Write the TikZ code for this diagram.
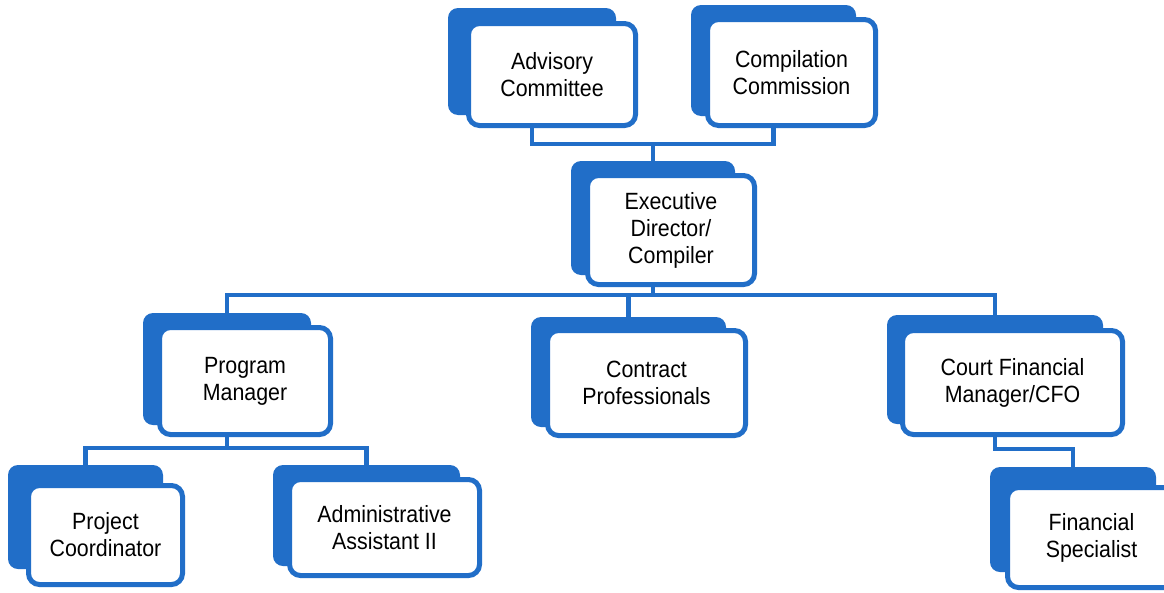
\documentclass[tikz,border=0pt]{standalone}
\usepackage{fontspec}
\setmainfont{Liberation Sans}[FakeStretch=0.91]
\usetikzlibrary{backgrounds,calc}
\definecolor{orgblue}{RGB}{33,110,200}
\tikzset{
  backbox/.style={fill=orgblue, draw=none, rounded corners=10pt, inner sep=0pt},
  frontbox/.style={fill=white, draw=orgblue, line width=5pt, rounded corners=11pt, inner sep=0pt,
    align=center, font=\fontsize{23.5}{27}\selectfont},
  conn/.style={draw=orgblue, line width=4.5pt},
}
% #1 name, #2 x1, #3 y1, #4 x2, #5 y2 (outer edges of front box), #6 text, #7 dx, #8 dy
\newcommand\obox[8]{%
  \pgfmathsetmacro\bw{#4-#2-22+#7}%
  \pgfmathsetmacro\bh{#5-#3}%
  \pgfmathsetmacro\bcx{(#2-#7+#4-22)/2}%
  \pgfmathsetmacro\bcy{(#3+#5)/2-#8}%
  \pgfmathsetmacro\fw{#4-#2-5}%
  \pgfmathsetmacro\fh{#5-#3-5}%
  \pgfmathsetmacro\fcx{(#2+#4)/2}%
  \pgfmathsetmacro\fcy{(#3+#5)/2}%
  \node[backbox, minimum width=\bw pt, minimum height=\bh pt] (#1b) at (\bcx,\bcy) {};
  \node[frontbox, minimum width=\fw pt, minimum height=\fh pt] (#1) at (\fcx,\fcy) {#6};
}
\begin{document}
\begin{tikzpicture}[x=1pt,y=-1pt]
\clip (0,0) rectangle (1164,592);
\obox{adv}{466}{21}{638}{128}{Advisory\\Committee}{18}{13}
\obox{comp}{705}{17}{878}{128}{Compilation\\Commission}{14}{12}
\obox{exec}{585}{173}{757}{287}{Executive\\Director/\\Compiler}{14}{12}
\obox{pm}{157}{325}{333}{437}{Program\\Manager}{14}{12}
\obox{con}{545}{328}{748}{438}{Contract\\Professionals}{14}{11}
\obox{cfo}{900}{328}{1125}{437}{Court Financial\\Manager/CFO}{13}{13}
\obox{proj}{26}{483}{185}{587}{Project\\Coordinator}{18}{18}
\obox{adm}{287}{477}{482}{578}{Administrative\\Assistant II}{14}{12}
\obox{fin}{1005}{485}{1178}{590}{Financial\\Specialist}{15}{18}
\begin{scope}[on background layer]
  \fill[white] (0,0) rectangle (1164,592);
  \draw[conn] (execb.north) -- ++(0,-17) coordinate (j1);
  \draw[conn] (advb.south) |- (j1) -| (compb.south);
  \draw[conn] (execb.south) -- ++(0,20) coordinate (j2);
  \draw[conn] (pmb.north) |- (j2) -| (cfob.north);
  \draw[conn] (conb.north) -- (conb.north |- j2);
  \draw[conn] (pmb.south) -- ++(0,23) coordinate (j3);
  \draw[conn] (projb.north) |- (j3) -| (admb.north);
  \draw[conn] (cfob.south) -- ++(0,25) -| (finb.north);
\end{scope}
\end{tikzpicture}
\end{document}
